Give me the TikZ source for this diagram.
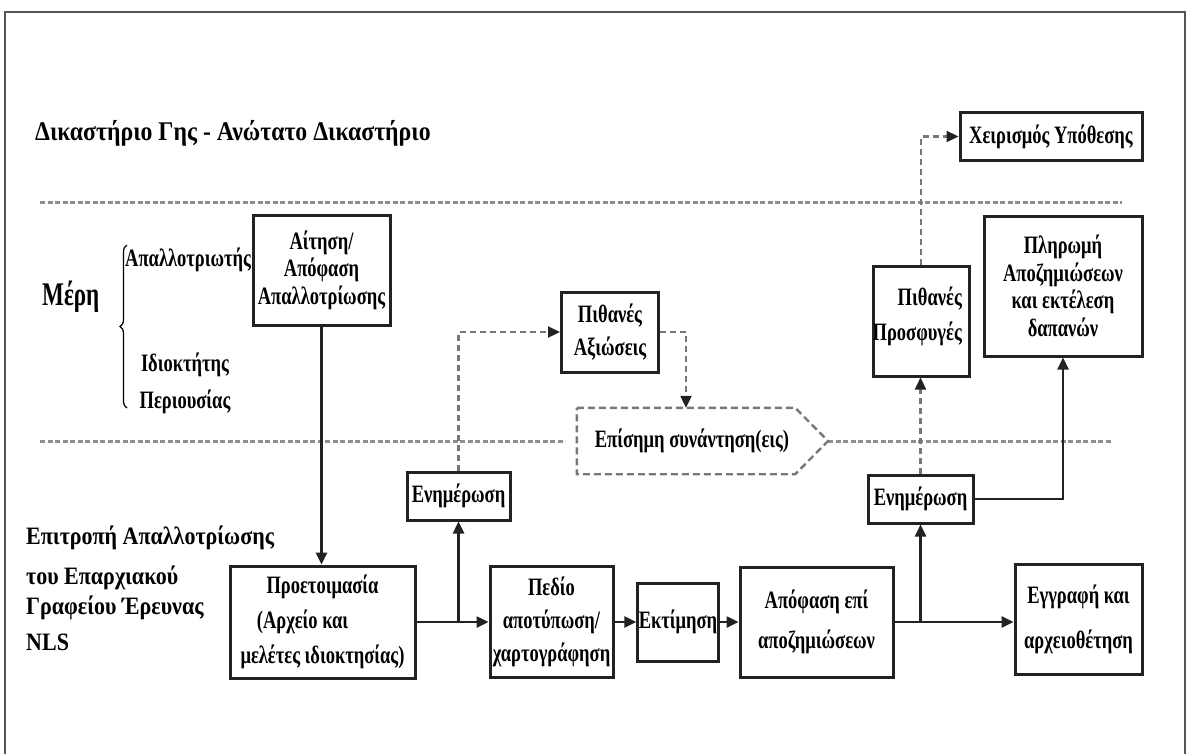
\documentclass[tikz,border=0pt]{standalone}
\usepackage{fontspec}
\setmainfont{Liberation Serif}[FakeStretch=0.74]
\newfontfamily\widefont{Liberation Serif}[FakeStretch=0.88]
\newfontfamily\narrowfont{Liberation Serif}[FakeStretch=0.7]
\usetikzlibrary{arrows.meta,calc,decorations.pathreplacing}

\definecolor{framegray}{HTML}{555555}
\definecolor{sepgray}{HTML}{8E8E8E}
\definecolor{dashgray}{HTML}{777777}
\definecolor{inkdark}{HTML}{222222}

\newcommand\boxfont{\fontsize{25}{28}\selectfont\bfseries}

\tikzset{
  box/.style={draw=inkdark, line width=3pt, fill=white, inner sep=1pt,
    align=center, font=\boxfont},
  lbl/.style={inner sep=0pt, font=\boxfont, text=black},
  sepline/.style={draw=sepgray, line width=3pt, dash pattern=on 5pt off 2.5pt},
  flow/.style={draw=inkdark, line width=2.5pt,
    -{Triangle[length=12pt,width=11pt]}},
  maybe/.style={draw=dashgray, line width=2.2pt, dash pattern=on 6pt off 4pt,
    -{Triangle[length=12pt,width=11pt,color=inkdark]}},
  outline/.style={draw=dashgray, line width=2.4pt, dash pattern=on 7pt off 4pt},
}

\begin{document}
\begin{tikzpicture}[x=1pt,y=-1pt]
\useasboundingbox (0,0) rectangle (1190,753);

% outer frame (open at the bottom edge)
\draw[framegray, line width=2pt] (5,760) -- (5,12) -- (1185,12) -- (1185,760);

% heading
\node[lbl, anchor=west, font=\widefont\fontsize{27}{30}\selectfont\bfseries] (court) at (35,133)
  {Δικαστήριο Γης - Ανώτατο Δικαστήριο};

% lane separators
\coordinate (s1a) at (40,202);
\coordinate (s1b) at (1122,202);
\draw[sepline] (s1a) -- (s1b);
\coordinate (s2a) at (40,441);
\coordinate (s2b) at (565,441);
\coordinate (meettip) at (828,441);
\coordinate (s2c) at (1112,441);
\draw[sepline] (s2a) -- (s2b);
\draw[sepline] (meettip) -- (s2c);

% parties lane labels
\node[lbl, anchor=west, font=\narrowfont\fontsize{33}{35}\selectfont\bfseries] (meri) at (42,297) {Μέρη};
\coordinate (brb) at (127,408);
\coordinate (brt) at (127,245);
\draw[black, line width=1.2pt, decorate,
  decoration={brace, amplitude=7pt, aspect=0.5}] (brb) -- (brt);
\node[lbl, anchor=west] (apal) at (125,260) {Απαλλοτριωτής};
\node[lbl, align=center, font=\fontsize{25}{37}\selectfont\bfseries] (owner) at (185,383)
  {Ιδιοκτήτης\\Περιουσίας};

% committee lane label
\node[lbl, anchor=west, align=left, font=\widefont\fontsize{25}{30}\selectfont\bfseries] (nls) at (26,588)
  {Επιτροπή Απαλλοτρίωσης\\[10pt]του Επαρχιακού\\Γραφείου Έρευνας\\[6pt]NLS};

% process boxes
\node[box, minimum width=137, minimum height=110, font=\fontsize{25}{27.5}\selectfont\bfseries]
  (ait) at (321.5,270) {Αίτηση/\\Απόφαση\\Απαλλοτρίωσης};
\node[box, minimum width=185, minimum height=112, font=\fontsize{25}{35}\selectfont\bfseries]
  (prep) at (322.5,622) {Προετοιμασία\\\hspace*{-40pt}(Αρχείο και\\μελέτες ιδιοκτησίας)};
\node[box, minimum width=103, minimum height=48] (enim1) at (458.5,496) {Ενημέρωση};
\node[box, minimum width=97, minimum height=80, font=\fontsize{25}{33}\selectfont\bfseries]
  (axio) at (610,332) {Πιθανές\\Αξιώσεις};
\node[lbl, minimum width=218, minimum height=66] (meet) at (686,441) {\hspace*{12pt}Επίσημη συνάντηση(εις)};
\node[box, minimum width=123, minimum height=111, font=\fontsize{25}{33}\selectfont\bfseries]
  (pedio) at (551.5,622) {Πεδίο\\αποτύπωση/\\χαρτογράφηση};
\node[box, minimum width=80, minimum height=78] (ektim) at (678,622) {Εκτίμηση};
\node[box, minimum width=153, minimum height=110, font=\fontsize{25}{40}\selectfont\bfseries]
  (apo) at (816.5,622) {Απόφαση επί\\αποζημιώσεων};
\node[box, minimum width=127, minimum height=110, font=\fontsize{25}{45}\selectfont\bfseries]
  (egg) at (1078.5,619) {Εγγραφή και\\αρχειοθέτηση};
\node[box, minimum width=105, minimum height=48] (enim2) at (920.5,499) {Ενημέρωση};
\node[box, minimum width=96, minimum height=110] (prosf) at (921,321) {};
\node[lbl, anchor=east, align=right, font=\fontsize{25}{35}\selectfont\bfseries]
  (prosftxt) at (962,316) {Πιθανές\\Προσφυγές};
\node[box, minimum width=158, minimum height=140, font=\fontsize{25}{27.5}\selectfont\bfseries]
  (plir) at (1063,286) {Πληρωμή\\Αποζημιώσεων\\και εκτέλεση\\δαπανών};
\node[box, minimum width=182, minimum height=48] (xeir) at (1051,136.5) {Χειρισμός Υπόθεσης};

% meeting outline
\draw[outline] (meet.north west) -- (meet.north east) -- (meettip)
  -- (meet.south east) -- (meet.south west) -- cycle;

% main flow
\draw[flow] (ait.south) -- (ait.south |- prep.north);
\draw[flow] (prep.east) -- (pedio.west);
\coordinate (j1) at (enim1.south |- prep.east);
\draw[flow] (j1) -- (enim1.south);
\draw[flow] (pedio.east) -- (ektim.west);
\draw[flow] (ektim.east) -- (apo.west);
\draw[flow] (apo.east) -- (egg.west |- apo.east);
\coordinate (j2) at (enim2.south |- apo.east);
\draw[flow] (j2) -- (enim2.south);
\draw[flow] (enim2.east) -| (plir.south);

% possible branches
\draw[maybe] (enim1.north) |- (axio.west);
\draw[maybe] (axio.east) -| (meet.north);
\draw[maybe] (enim2.north) -- (enim2.north |- prosf.south);
\draw[maybe] (prosf.north) |- (xeir.west);
\end{tikzpicture}
\end{document}
